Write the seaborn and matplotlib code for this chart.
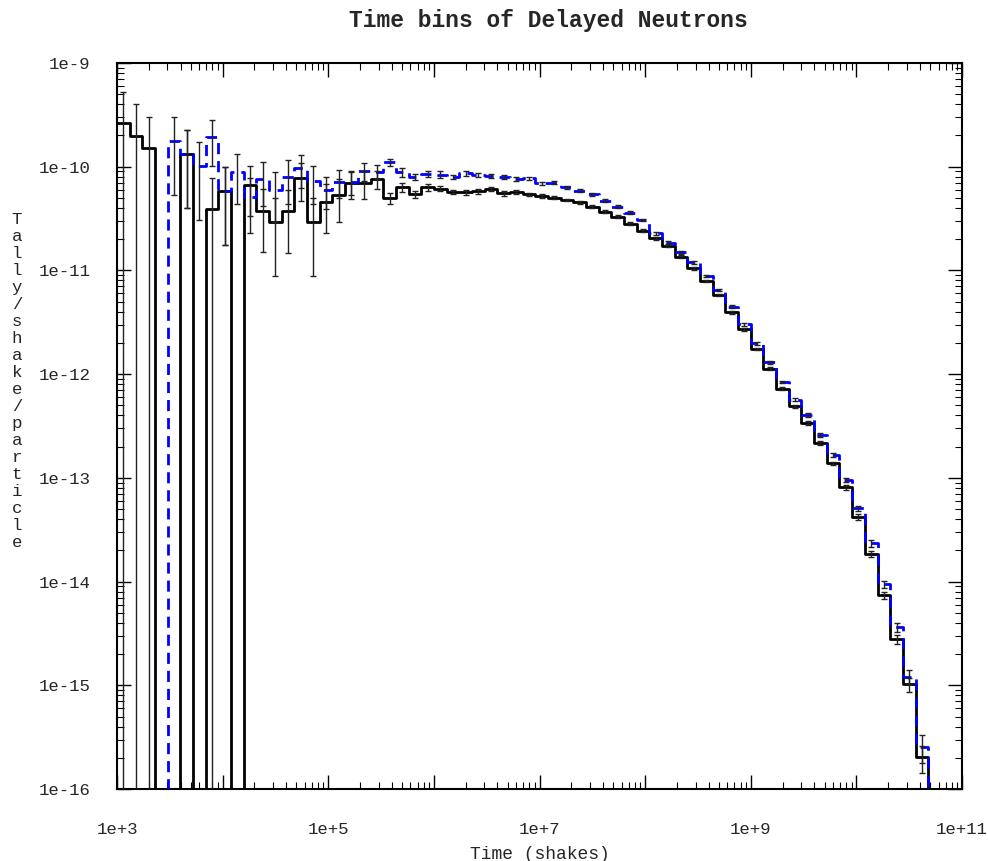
import numpy as np
import pandas as pd
import matplotlib
matplotlib.use("Agg")
import matplotlib.pyplot as plt
import seaborn as sns
from matplotlib.ticker import FixedLocator, FuncFormatter, LogLocator, NullFormatter

# ---- data -------------------------------------------------------------
# 64 logarithmic time bins (shakes), 1e3 .. ~4.8e10
time_bin_edges = np.logspace(3.0, 10.68, 65)

tally_black = [
    2.65e-10, 1.99e-10, 1.52e-10, 0.0, 0.0, 1.33e-10, 0.0, 3.88e-11,
    5.87e-11, 0.0, 6.71e-11, 3.77e-11, 2.93e-11, 3.70e-11, 7.74e-11, 2.93e-11,
    4.55e-11, 5.28e-11, 7.01e-11, 6.92e-11, 7.62e-11, 5.02e-11, 6.33e-11, 5.45e-11,
    6.33e-11, 6.14e-11, 5.70e-11, 5.66e-11, 5.79e-11, 6.10e-11, 5.54e-11, 5.70e-11,
    5.42e-11, 5.19e-11, 5.03e-11, 4.78e-11, 4.54e-11, 4.12e-11, 3.68e-11, 3.30e-11,
    2.82e-11, 2.41e-11, 2.04e-11, 1.72e-11, 1.36e-11, 1.05e-11, 7.90e-12, 5.79e-12,
    3.94e-12, 2.70e-12, 1.75e-12, 1.13e-12, 7.26e-13, 4.91e-13, 3.40e-13, 2.18e-13,
    1.38e-13, 8.11e-14, 4.22e-14, 1.84e-14, 7.42e-15, 2.79e-15, 1.02e-15, 2.02e-16,
]
relerr_black = [
    1.0, 1.0, 1.0, 0.0, 0.0, 0.7, 0.0, 1.0,
    0.7, 0.0, 0.5, 0.6, 0.7, 0.6, 0.4, 0.7,
    0.5, 0.45, 0.3, 0.3, 0.2, 0.12, 0.1, 0.08,
    0.07, 0.06, 0.05, 0.05, 0.05, 0.05, 0.05, 0.04,
    0.04, 0.04, 0.03, 0.03, 0.03, 0.03, 0.03, 0.03,
    0.03, 0.03, 0.03, 0.03, 0.03, 0.03, 0.03, 0.03,
    0.03, 0.03, 0.03, 0.03, 0.03, 0.03, 0.04, 0.04,
    0.04, 0.05, 0.06, 0.07, 0.08, 0.1, 0.15, 0.3,
]

tally_blue = [
    0.0, 0.0, 0.0, 0.0, 1.78e-10, 1.33e-10, 1.02e-10, 1.92e-10,
    5.83e-11, 8.83e-11, 5.07e-11, 7.58e-11, 5.90e-11, 7.96e-11, 9.62e-11, 7.31e-11,
    5.96e-11, 7.16e-11, 7.16e-11, 9.09e-11, 8.95e-11, 1.10e-10, 8.83e-11, 8.01e-11,
    8.51e-11, 8.41e-11, 8.01e-11, 8.63e-11, 8.31e-11, 8.18e-11, 8.01e-11, 7.57e-11,
    7.73e-11, 6.92e-11, 7.01e-11, 6.33e-11, 5.87e-11, 5.42e-11, 4.70e-11, 4.11e-11,
    3.60e-11, 3.06e-11, 2.28e-11, 1.85e-11, 1.50e-11, 1.20e-11, 8.83e-12, 6.47e-12,
    4.47e-12, 3.02e-12, 1.98e-12, 1.30e-12, 8.43e-13, 5.69e-13, 4.03e-13, 2.59e-13,
    1.66e-13, 9.53e-14, 5.08e-14, 2.34e-14, 9.46e-15, 3.62e-15, 1.21e-15, 2.56e-16,
]
relerr_blue = [
    0.0, 0.0, 0.0, 0.0, 0.7, 0.7, 0.7, 0.47,
    0.7, 0.5, 0.55, 0.45, 0.5, 0.45, 0.35, 0.4,
    0.35, 0.3, 0.25, 0.2, 0.15, 0.08, 0.1, 0.07,
    0.07, 0.07, 0.05, 0.05, 0.05, 0.05, 0.05, 0.04,
    0.04, 0.04, 0.03, 0.03, 0.03, 0.03, 0.03, 0.03,
    0.03, 0.03, 0.03, 0.03, 0.03, 0.03, 0.03, 0.03,
    0.03, 0.03, 0.03, 0.03, 0.03, 0.03, 0.04, 0.04,
    0.04, 0.05, 0.06, 0.07, 0.08, 0.1, 0.15, 0.3,
]

x_major_exponents = [3, 4, 5, 6, 7, 8, 9, 10, 11]
x_labelled_exponents = [3, 5, 7, 9, 11]
y_major_exponents = [-16, -15, -14, -13, -12, -11, -10, -9]

title_text = "Time bins of Delayed Neutrons"
xlabel_text = "Time (shakes)"
ylabel_text = "Tally/shake/particle"

# ---- figure -------------------------------------------------------------
sns.set_style("white")
mono = ["Liberation Mono", "DejaVu Sans Mono"]
plt.rcParams["font.family"] = mono

fig = plt.figure(figsize=(9.88, 8.61), dpi=100)
ax = fig.add_axes([117 / 988, 1 - 789 / 861, (962 - 117) / 988, (789 - 63) / 861])

edges = np.asarray(time_bin_edges)
step_black = pd.DataFrame({"t": edges, "v": list(tally_black) + [0.0]})
step_blue = pd.DataFrame({"t": edges, "v": list(tally_blue) + [0.0]})

sns.lineplot(data=step_black, x="t", y="v", ax=ax, color="black", lw=2.0,
             drawstyle="steps-post", estimator=None, sort=False, zorder=2)
sns.lineplot(data=step_blue, x="t", y="v", ax=ax, color="#0000ff", lw=2.0,
             drawstyle="steps-post", estimator=None, sort=False, zorder=3,
             linestyle=(0, (4, 2.5)))

centers = np.sqrt(edges[:-1] * edges[1:])
for vals, rel in ((tally_black, relerr_black), (tally_blue, relerr_blue)):
    v = np.asarray(vals)
    r = np.asarray(rel)
    m = v > 0
    lo = np.minimum(v[m] * r[m], v[m])
    hi = v[m] * r[m]
    ax.errorbar(centers[m], v[m], yerr=[lo, hi], fmt="none", ecolor="#222222",
                elinewidth=1.0, capsize=2, capthick=1.0, zorder=4)

ax.set_xscale("log")
ax.set_yscale("log", nonpositive="clip")
ax.set_xlim(1e3, 1e11)
ax.set_ylim(1e-16, 1e-9)


def exp_label(val):
    e = int(round(np.log10(val)))
    return f"1e{e:+d}" if e >= 0 else f"1e{e:d}"


ax.xaxis.set_major_locator(FixedLocator([10.0 ** e for e in x_major_exponents]))
ax.xaxis.set_major_formatter(FuncFormatter(
    lambda val, pos: exp_label(val) if int(round(np.log10(val))) in x_labelled_exponents else ""))
ax.xaxis.set_minor_locator(LogLocator(base=10, subs=np.arange(2, 10), numticks=100))
ax.xaxis.set_minor_formatter(NullFormatter())

ax.yaxis.set_major_locator(FixedLocator([10.0 ** e for e in y_major_exponents]))
ax.yaxis.set_major_formatter(FuncFormatter(lambda val, pos: exp_label(val)))
ax.yaxis.set_minor_locator(LogLocator(base=10, subs=np.arange(2, 10), numticks=100))
ax.yaxis.set_minor_formatter(NullFormatter())

ax.tick_params(which="both", direction="in", top=True, right=True,
               bottom=True, left=True, color="black")
ax.tick_params(which="major", length=10, width=1.0, labelsize=12.5)
ax.tick_params(which="minor", length=5, width=0.8)
ax.tick_params(axis="y", which="major", pad=19)
ax.tick_params(axis="x", which="major", pad=24)

for s in ax.spines.values():
    s.set_color("black")
    s.set_linewidth(1.5)

ax.set_xlabel(xlabel_text, fontsize=13, labelpad=6)
ax.set_ylabel("")
fig.text(548 / 988, 1 - 20 / 861, title_text, ha="center", va="center",
         fontsize=16.5, fontweight="bold")
fig.text(17 / 988, 1 - 381 / 861, "\n".join(ylabel_text), ha="center", va="center",
         fontsize=12.5, linespacing=1.17)

fig.savefig("out.png", dpi=100, facecolor="white")
